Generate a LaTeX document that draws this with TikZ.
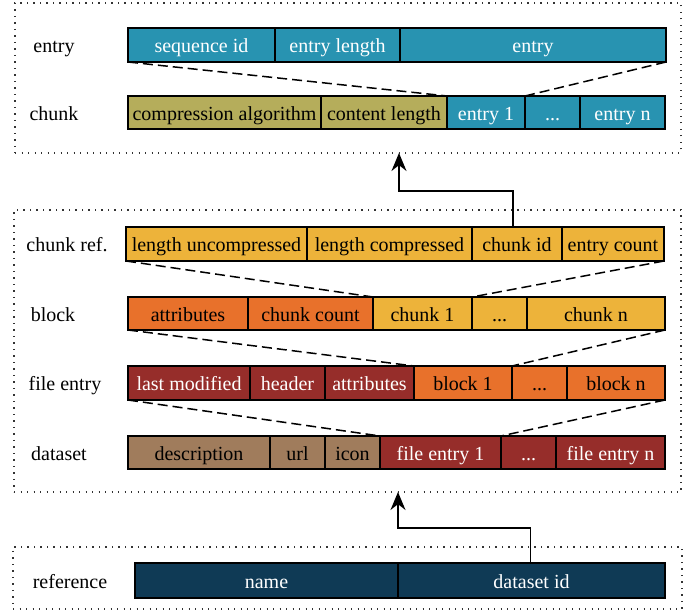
\documentclass[tikz,border=0pt]{standalone}
\usepackage{fontspec}
\setmainfont{Liberation Serif}
\usetikzlibrary{arrows.meta}
\definecolor{cteal}{HTML}{2893B1}
\definecolor{colive}{HTML}{B5AD5B}
\definecolor{cyel}{HTML}{EDB33A}
\definecolor{corange}{HTML}{E8712B}
\definecolor{cdred}{HTML}{962D2A}
\definecolor{cbrown}{HTML}{A07C5C}
\definecolor{cdblue}{HTML}{0F3A55}
\tikzset{
  every node/.style={font=\fontsize{20}{24}\selectfont},
  cellbox/.style={draw=black, line width=1.2pt, inner sep=0pt, outer sep=0pt, anchor=center, text height=15.4pt, text depth=0pt},
  fteal/.style={fill=cteal, text=white},
  folive/.style={fill=colive, text=black},
  fyel/.style={fill=cyel, text=black},
  forange/.style={fill=corange, text=black},
  fdred/.style={fill=cdred, text=white},
  fbrown/.style={fill=cbrown, text=black},
  fdblue/.style={fill=cdblue, text=white},
  dotbox/.style={draw=black!80, line width=1.1pt, dash pattern=on 1.1pt off 5.4pt, inner sep=0pt, outer sep=0pt, anchor=north west},
  dashline/.style={draw=black, line width=1.5pt, dash pattern=on 10pt off 5pt},
  arrline/.style={draw=black, line width=1.5pt, -{Stealth[length=18pt,width=15pt]}},
  rowlabel/.style={text=black, inner sep=0pt, text height=15.4pt, text depth=0pt}
}
\newcommand\mycell[7]{%
  \node[cellbox,#6,minimum width={(#3-#2)*1pt},minimum height={(#5-#4)*1pt}]
    (#1) at ({(#2+#3)/2},{(#4+#5)/2}) {#7};}
\newcommand\mydot[5]{%
  \node[dotbox,minimum width={(#4-#2)*1pt},minimum height={(#5-#3)*1pt}] (#1) at (#2,#3) {};}
\begin{document}
\begin{tikzpicture}[x=1pt,y=-1pt]
\useasboundingbox (0,0) rectangle (697,612);
% dotted frames
\mydot{topbox}{15}{3}{681}{153}
\mydot{midbox}{14}{210}{681}{492}
\mydot{botbox}{13}{547}{682}{609}
% labels
\node[rowlabel] (lentry) at (54,45) {entry};
\node[rowlabel] (lchunk) at (54,113) {chunk};
\node[rowlabel] (lcref) at (67,244) {chunk ref.};
\node[rowlabel] (lblock) at (53,314) {block};
\node[rowlabel] (lfentry) at (65,383) {file entry};
\node[rowlabel] (ldataset) at (59,453) {dataset};
\node[rowlabel] (lref) at (70,581) {reference};
% entry row
\mycell{seqid}{128}{275}{28}{62}{fteal}{sequence id}
\mycell{elen}{275}{400}{28}{62}{fteal}{entry length}
\mycell{ent}{400}{666}{28}{62}{fteal}{entry}
% chunk row
\mycell{calg}{128}{321}{96}{129}{folive}{compression algorithm}
\mycell{clen}{321}{447}{96}{129}{folive}{content length}
\mycell{eone}{447}{525}{96}{129}{fteal}{entry 1}
\mycell{edots}{525}{580}{96}{129}{fteal}{...}
\mycell{en}{580}{665}{96}{129}{fteal}{entry n}
% chunk ref row
\mycell{lu}{126}{307}{227}{261}{fyel}{length uncompressed}
\mycell{lc}{307}{472}{227}{261}{fyel}{length compressed}
\mycell{cid}{472}{562}{227}{261}{fyel}{chunk id}
\mycell{ecnt}{562}{664}{227}{261}{fyel}{entry count}
% block row
\mycell{battr}{128}{248}{297}{330}{forange}{attributes}
\mycell{bcnt}{248}{373}{297}{330}{forange}{chunk count}
\mycell{chone}{373}{472}{297}{330}{fyel}{chunk 1}
\mycell{chdots}{472}{527}{297}{330}{fyel}{...}
\mycell{chn}{527}{665}{297}{330}{fyel}{chunk n}
% file entry row
\mycell{lm}{128}{250}{366}{400}{fdred}{last modified}
\mycell{hdr}{250}{325}{366}{400}{fdred}{header}
\mycell{fattr}{325}{414}{366}{400}{fdred}{attributes}
\mycell{bone}{414}{512}{366}{400}{forange}{block 1}
\mycell{bdots}{512}{567}{366}{400}{forange}{...}
\mycell{bn}{567}{665}{366}{400}{forange}{block n}
% dataset row
\mycell{desc}{128}{270}{436}{469}{fbrown}{description}
\mycell{url}{270}{325}{436}{469}{fbrown}{url}
\mycell{icon}{325}{380}{436}{469}{fbrown}{icon}
\mycell{feone}{380}{501}{436}{469}{fdred}{file entry 1}
\mycell{fedots}{501}{556}{436}{469}{fdred}{...}
\mycell{fen}{556}{665}{436}{469}{fdred}{file entry n}
% reference row
\mycell{rname}{135}{398}{563}{598}{fdblue}{name}
\mycell{dsid}{398}{665}{563}{598}{fdblue}{dataset id}
% dashed expansions
\draw[dashline] (seqid.south west) -- (eone.north west);
\draw[dashline] (ent.south east) -- (edots.north west);
\draw[dashline] (lu.south west) -- (chone.north west);
\draw[dashline] (ecnt.south east) -- (chdots.north west);
\draw[dashline] (battr.south west) -- (bone.north west);
\draw[dashline] (chn.south east) -- (bdots.north west);
\draw[dashline] (lm.south west) -- (feone.north west);
\draw[dashline] (bn.south east) -- (fedots.north west);
% arrows
\coordinate (kone) at (399,191);
\coordinate (ktwo) at (398,528);
\draw[arrline] ([xshift=-4pt]cid.north) |- (kone) -- (kone |- topbox.south);
\draw[arrline] ([xshift=-1pt]dsid.north) |- (ktwo) -- (ktwo |- midbox.south);
\end{tikzpicture}
\end{document}
